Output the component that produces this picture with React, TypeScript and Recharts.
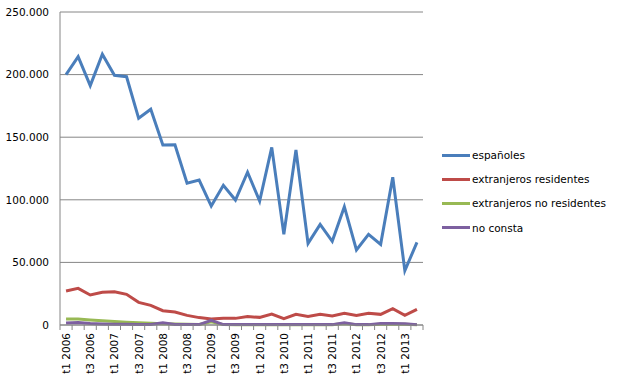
import React from 'react';
import { LineChart, Line, XAxis, YAxis, CartesianGrid } from 'recharts';

const categories = [
  't1 2006', 't2 2006', 't3 2006', 't4 2006',
  't1 2007', 't2 2007', 't3 2007', 't4 2007',
  't1 2008', 't2 2008', 't3 2008', 't4 2008',
  't1 2009', 't2 2009', 't3 2009', 't4 2009',
  't1 2010', 't2 2010', 't3 2010', 't4 2010',
  't1 2011', 't2 2011', 't3 2011', 't4 2011',
  't1 2012', 't2 2012', 't3 2012', 't4 2012',
  't1 2013', 't2 2013',
];

const espanoles = [
  200000, 214300, 191200, 216200, 199400, 198300, 165100, 172300, 143800, 144000,
  113200, 115800, 95000, 111600, 99800, 122000, 99000, 141900, 72400, 139800,
  65200, 80400, 66800, 94500, 59900, 72400, 64400, 118000, 43400, 66000,
];
const extranjerosResidentes = [
  27200, 29300, 24000, 26100, 26600, 24500, 18100, 15700, 11400, 10400,
  7700, 5900, 4800, 5300, 5300, 6700, 6100, 8800, 5100, 8500,
  6900, 8500, 7200, 9300, 7700, 9300, 8500, 13000, 7700, 12500,
];
const extranjerosNoResidentes = [
  4800, 4700, 4000, 3300, 2700, 2200, 1800, 1400, 1000, 800,
  500, 400, 2500, 300, 200, 200, 200, 200, 200, 200,
  200, 200, 200, 1200, 200, 200, 500, 600, 500, 200,
];
const noConsta = [
  1500, 2000, 1200, 800, 600, 500, 400, 400, 1800, 400,
  300, 300, 3800, 300, 300, 300, 300, 300, 300, 300,
  300, 300, 300, 1800, 300, 300, 1200, 1200, 1000, 300,
];
const yTicks = [0, 50000, 100000, 150000, 200000, 250000];

const seriesNames = ['españoles', 'extranjeros residentes', 'extranjeros no residentes', 'no consta'];
const seriesKeys = ['esp', 'res', 'nores', 'nc'];
const seriesColors = ['#4A7EBB', '#BE4B48', '#98B954', '#7D60A0'];

const data = categories.map((c, i) => ({
  cat: c,
  esp: espanoles[i],
  res: extranjerosResidentes[i],
  nores: extranjerosNoResidentes[i],
  nc: noConsta[i],
}));

const W = 617;
const H = 380;
const M = { top: 12, right: 194, bottom: 0, left: 0 };
const YW = 60;
const XH = 55;
const PLOT_W = W - M.left - M.right - YW;
const BAND = PLOT_W / categories.length;
const FONT = 'DejaVu Sans, Verdana, sans-serif';

const fmt = (v: number) => v.toLocaleString('de-DE');

const XTick = (props: any) => {
  const { x, y, payload, index } = props;
  const i = index ?? payload.index;
  const left = x - BAND / 2;
  const showLabel = i % 2 === 0;
  const isLast = i === categories.length - 1;
  return (
    <g>
      <line x1={left} y1={y} x2={left} y2={y + 5} stroke="#868686" />
      {isLast && <line x1={x + BAND / 2} y1={y} x2={x + BAND / 2} y2={y + 5} stroke="#868686" />}
      {showLabel && (
        <text
          x={x}
          y={y + 8}
          transform={`rotate(-90, ${x}, ${y + 8})`}
          textAnchor="end"
          dominantBaseline="central"
          fontSize={10.5}
          fontFamily={FONT}
          fill="#000"
        >
          {payload.value}
        </text>
      )}
    </g>
  );
};

const LegendBox = () => (
  <div style={{ position: 'absolute', left: 442, top: 143, fontFamily: FONT, fontSize: 10.5, color: '#000' }}>
    {seriesNames.map((n, i) => (
      <div key={n} style={{ display: 'flex', alignItems: 'center', height: 24.2 }}>
        <div style={{ width: 28, height: 3, background: seriesColors[i], marginRight: 2 }} />
        <span>{n}</span>
      </div>
    ))}
  </div>
);

export default function App() {
  return (
    <div style={{ position: 'absolute', left: 0, top: 0, width: W, height: H, background: '#fff' }}>
      <LineChart width={W} height={H} data={data} margin={M}>
        <CartesianGrid horizontal vertical={false} stroke="#868686" strokeWidth={1} />
        <XAxis
          dataKey="cat"
          interval={0}
          height={XH}
          padding={{ left: BAND / 2, right: BAND / 2 }}
          tickLine={false}
          tickSize={0}
          tickMargin={0}
          axisLine={{ stroke: '#868686' }}
          tick={<XTick />}
        />
        <YAxis
          width={YW}
          domain={[0, 250000]}
          ticks={yTicks}
          tickFormatter={fmt}
          tickLine={false}
          tickMargin={5}
          axisLine={{ stroke: '#868686' }}
          tick={{ fontSize: 10.5, fontFamily: FONT, fill: '#000' }}
        />
        {seriesKeys.map((k, i) => (
          <Line
            key={k}
            type="linear"
            dataKey={k}
            name={seriesNames[i]}
            stroke={seriesColors[i]}
            strokeWidth={3}
            dot={false}
            activeDot={false}
            isAnimationActive={false}
          />
        ))}
      </LineChart>
      <LegendBox />
    </div>
  );
}
